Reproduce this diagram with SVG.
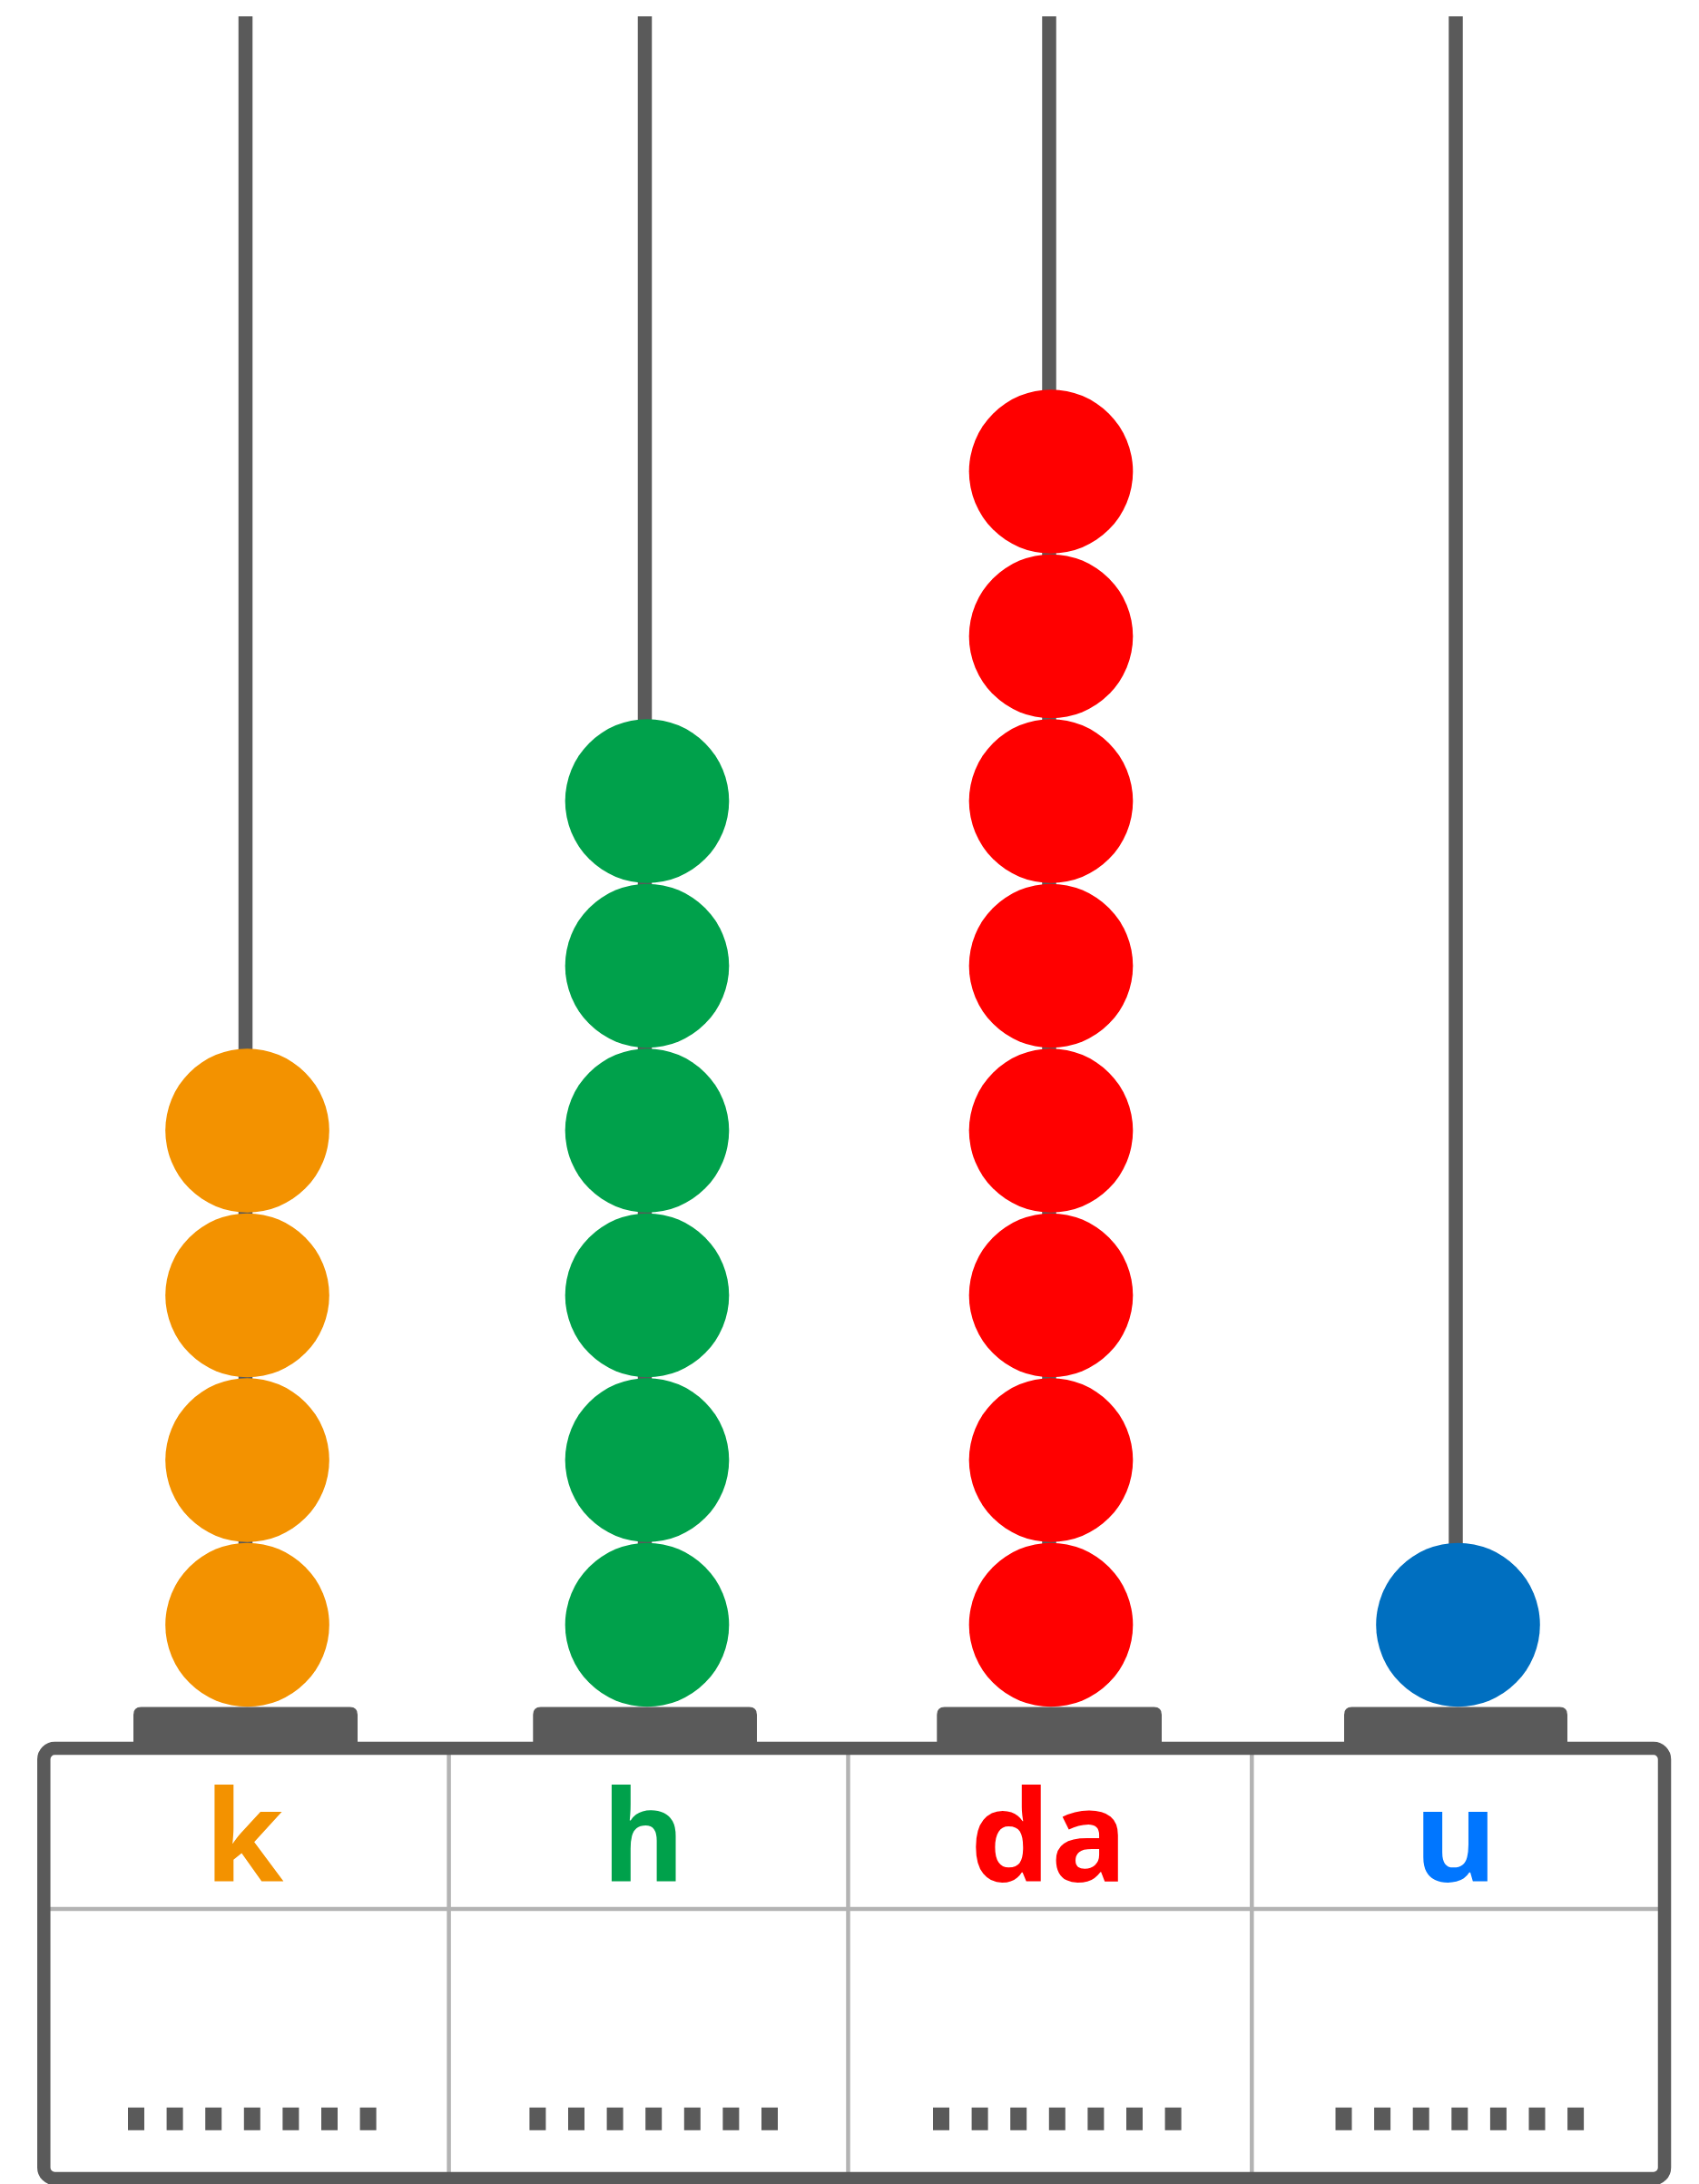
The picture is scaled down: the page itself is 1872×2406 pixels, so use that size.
<svg xmlns="http://www.w3.org/2000/svg" width="1872" height="2406" viewBox="0 0 1872 2406">
  <style>
    .rod { stroke: #5a5a5a; stroke-width: 15.5; fill: none; }
    .ped { fill: #5a5a5a; }
    .grid { stroke: #b3b3b3; stroke-width: 4.5; fill: none; }
    .frame { stroke: #5a5a5a; stroke-width: 14.5; fill: none; }
    .dash { stroke: #5a5a5a; stroke-width: 25; stroke-dasharray: 18 24.6; fill: none; }
    .lbl { font-family: "Open Sans", "Noto Sans", sans-serif; font-weight: 700; font-size: 140px; text-anchor: middle; }
    .orange { fill: #f39200; }
    .green { fill: #00a14b; }
    .red { fill: #ff0000; }
    .blue { fill: #006fc0; }
  </style>
  <rect x="0" y="0" width="1872" height="2406" fill="#ffffff"/>

  <g id="connectors"></g>

  <g id="rod-k">
    <line class="rod" x1="270.5" y1="18" x2="270.5" y2="1800"/>
    <circle class="orange" cx="272.5" cy="1790" r="90.3"/>
    <circle class="orange" cx="272.5" cy="1608.5" r="90.3"/>
    <circle class="orange" cx="272.5" cy="1427" r="90.3"/>
    <circle class="orange" cx="272.5" cy="1245.5" r="90.3"/>
  </g>

  <g id="rod-h">
    <line class="rod" x1="710.5" y1="18" x2="710.5" y2="1800"/>
    <circle class="green" cx="713" cy="1790" r="90.3"/>
    <circle class="green" cx="713" cy="1608.5" r="90.3"/>
    <circle class="green" cx="713" cy="1427" r="90.3"/>
    <circle class="green" cx="713" cy="1245.5" r="90.3"/>
    <circle class="green" cx="713" cy="1064" r="90.3"/>
    <circle class="green" cx="713" cy="882.5" r="90.3"/>
  </g>

  <g id="rod-da">
    <line class="rod" x1="1156" y1="18" x2="1156" y2="1800"/>
    <circle class="red" cx="1158" cy="1790" r="90.3"/>
    <circle class="red" cx="1158" cy="1608.5" r="90.3"/>
    <circle class="red" cx="1158" cy="1427" r="90.3"/>
    <circle class="red" cx="1158" cy="1245.5" r="90.3"/>
    <circle class="red" cx="1158" cy="1064" r="90.3"/>
    <circle class="red" cx="1158" cy="882.5" r="90.3"/>
    <circle class="red" cx="1158" cy="701" r="90.3"/>
    <circle class="red" cx="1158" cy="519.5" r="90.3"/>
  </g>

  <g id="rod-u">
    <line class="rod" x1="1604" y1="18" x2="1604" y2="1800"/>
    <circle class="blue" cx="1606.5" cy="1790" r="90.3"/>
  </g>

  <g id="table">
    <line class="grid" x1="494.6" y1="1930" x2="494.6" y2="2396"/>
    <line class="grid" x1="934.5" y1="1930" x2="934.5" y2="2396"/>
    <line class="grid" x1="1379.3" y1="1930" x2="1379.3" y2="2396"/>
    <line class="grid" x1="52" y1="2103" x2="1830" y2="2103"/>
    <rect class="frame" x="48.3" y="1926" width="1785.7" height="474" rx="12" ry="12"/>
  </g>

  <g id="pedestals">
    <path class="ped" d="M147 1930 V1889 Q147 1880.5 155.5 1880.5 H385.5 Q394 1880.5 394 1889 V1930 Z"/>
    <path class="ped" d="M587.3 1930 V1889 Q587.3 1880.5 595.8 1880.5 H825.5 Q834 1880.5 834 1889 V1930 Z"/>
    <path class="ped" d="M1032.3 1930 V1889 Q1032.3 1880.5 1040.8 1880.5 H1271.5 Q1280 1880.5 1280 1889 V1930 Z"/>
    <path class="ped" d="M1481 1930 V1889 Q1481 1880.5 1489.5 1880.5 H1718.5 Q1727 1880.5 1727 1889 V1930 Z"/>
  </g>

  <g id="label-k">
    <text class="lbl orange" x="269" y="2073">k</text>
    <line class="dash" x1="141" y1="2334.2" x2="414.6" y2="2334.2"/>
  </g>
  <g id="label-h">
    <text class="lbl green" x="709" y="2073">h</text>
    <line class="dash" x1="583.4" y1="2334.2" x2="857" y2="2334.2"/>
  </g>
  <g id="label-da">
    <text class="lbl red" x="1155.7" y="2073">da</text>
    <line class="dash" x1="1028" y1="2334.2" x2="1301.6" y2="2334.2"/>
  </g>
  <g id="label-u">
    <text class="lbl" x="1603.7" y="2073" fill="#0076ff">u</text>
    <line class="dash" x1="1471.5" y1="2334.2" x2="1745.1" y2="2334.2"/>
  </g>
</svg>
